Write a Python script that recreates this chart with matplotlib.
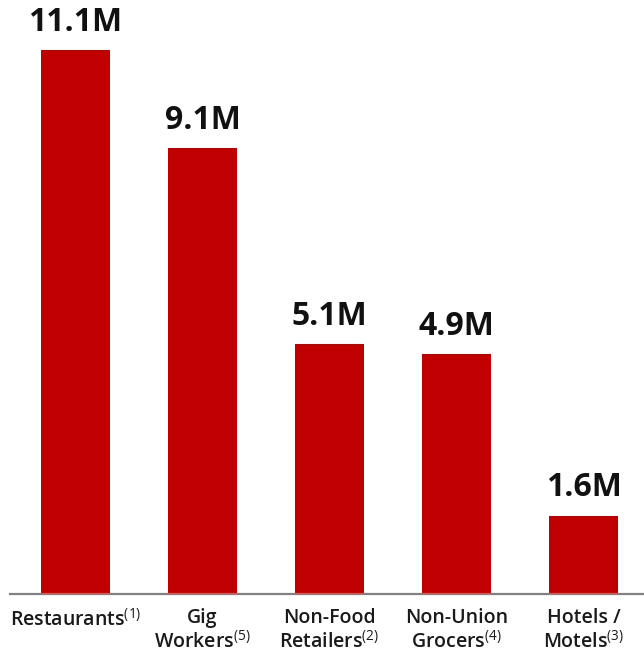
import matplotlib
matplotlib.use('Agg')
import matplotlib.pyplot as plt

categories = ['Restaurants$^{(1)}$', 'Gig\nWorkers$^{(5)}$', 'Non-Food\nRetailers$^{(2)}$',
              'Non-Union\nGrocers$^{(4)}$', 'Hotels /\nMotels$^{(3)}$']
values = [11.1, 9.1, 5.1, 4.9, 1.6]
value_labels = ['11.1M', '9.1M', '5.1M', '4.9M', '1.6M']

plt.rcParams['font.family'] = ['Open Sans', 'DejaVu Sans']
plt.rcParams['mathtext.fontset'] = 'custom'
plt.rcParams['mathtext.rm'] = 'Open Sans'
plt.rcParams['mathtext.it'] = 'Open Sans'

fig = plt.figure(figsize=(6.44, 6.51), dpi=100)
fig.patch.set_facecolor('white')
ax = fig.add_axes([10 / 644, 57 / 651, 634 / 644, 594 / 651])

x = list(range(len(values)))
ax.bar(x, values, width=0.543, color='#C00000', zorder=2)

# value labels above bars
for i in x:
    ax.annotate(value_labels[i], (i, values[i]), xytext=(0, 8), textcoords='offset points',
                ha='center', va='bottom', fontsize=23, fontweight='bold', color='#111111')

ax.set_xlim(-0.516, 4.476)
ax.set_ylim(0, 12.12)
ax.set_xticks(x)
ax.set_xticklabels(categories, fontsize=14, fontweight=600, color='#1a1a1a', linespacing=1.15, va='top')
ax.tick_params(axis='x', length=0, pad=10)
ax.set_yticks([])
for s in ['top', 'right', 'left']:
    ax.spines[s].set_visible(False)
ax.spines['bottom'].set_color('#808080')
ax.spines['bottom'].set_linewidth(1.6)

fig.savefig('out.png', dpi=100)
